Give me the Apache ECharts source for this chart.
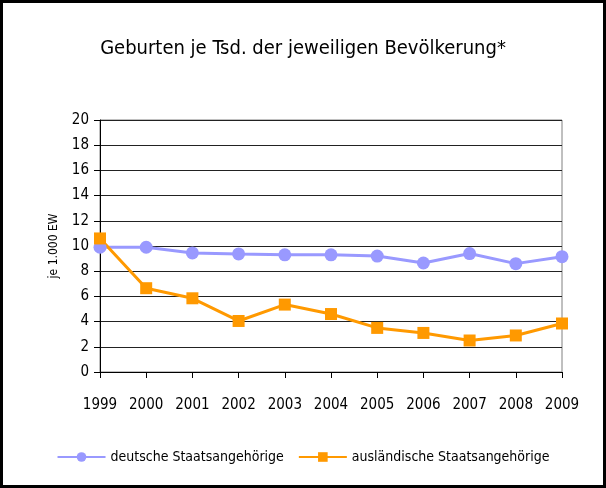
<!DOCTYPE html>
<html lang="de">
<head>
    <meta charset="UTF-8">
    <title>Geburten</title>
    <script src="https://cdn.jsdelivr.net/npm/echarts@6/dist/echarts.min.js"></script>
    <style>
        body{ margin: 0; }
        .box{ width: 606px; height: 488px; }
    </style>
</head>
<body>
    <div class="box"></div>
</body>
<script>
 // Jahre und Werte je 1.000 EW
 let jahre = ['1999','2000','2001','2002','2003','2004','2005','2006','2007','2008','2009']
 let deutsche = [9.9, 9.9, 9.45, 9.37, 9.3, 9.3, 9.2, 8.65, 9.4, 8.6, 9.15]
 let auslaender = [10.6, 6.65, 5.85, 4.05, 5.35, 4.6, 3.5, 3.1, 2.5, 2.9, 3.85]
 let schrift = '"DejaVu Sans Condensed", "Liberation Sans Narrow", sans-serif'

 let chart = echarts.init(document.querySelector('.box'))
 let option = {
    textStyle: { fontFamily: schrift },
    graphic: [{ // Rahmen ums Bild
        type: 'rect',
        shape: { x: 1.5, y: 1.5, width: 603, height: 485 },
        style: { fill: 'none', stroke: '#000', lineWidth: 3 }
    }],
    title: {
        text: 'Geburten je Tsd. der jeweiligen Bevölkerung*',
        left: 'center',
        top: 34,
        textStyle: { fontFamily: schrift, fontSize: 20, fontWeight: 'normal', color: '#000' }
    },
    grid: {
        left: 100, right: 44, top: 120, bottom: 116,
        show: true, borderColor: '#808080', borderWidth: 1
    },
    legend: {
        bottom: 19,
        left: 'center',
        itemWidth: 48,
        itemHeight: 12,
        itemGap: 14,
        textStyle: { fontFamily: schrift, fontSize: 14, color: '#000' },
        data: ['deutsche Staatsangehörige', 'ausländische Staatsangehörige']
    },
    xAxis: {
        type: 'category',
        data: jahre,
        boundaryGap: false,
        axisLine: { lineStyle: { color: '#000' } },
        axisTick: { length: 6, lineStyle: { color: '#000' } },
        axisLabel: { interval: 0, margin: 26, fontSize: 15, color: '#000', fontFamily: schrift }
    },
    yAxis: {
        type: 'value',
        min: 0, max: 20, interval: 2,
        name: 'je 1.000 EW',
        nameLocation: 'middle',
        nameGap: 40,
        nameTextStyle: { fontSize: 12, color: '#000', fontFamily: schrift },
        axisLine: { show: true, lineStyle: { color: '#000' } },
        axisTick: { show: true, length: 6, lineStyle: { color: '#000' } },
        axisLabel: { margin: 11, fontSize: 15, color: '#000', fontFamily: schrift },
        splitLine: { lineStyle: { color: '#222', width: 1 } }
    },
    series: [
        {
            name: 'deutsche Staatsangehörige',
            type: 'line',
            data: deutsche,
            symbol: 'circle',
            symbolSize: 13,
            lineStyle: { color: '#9999ff', width: 3 },
            itemStyle: { color: '#9999ff' }
        },
        {
            name: 'ausländische Staatsangehörige',
            type: 'line',
            data: auslaender,
            symbol: 'rect',
            symbolSize: 12,
            lineStyle: { color: '#ff9900', width: 3 },
            itemStyle: { color: '#ff9900' }
        }
    ]
 }
 chart.setOption(option)
</script>
</html>
